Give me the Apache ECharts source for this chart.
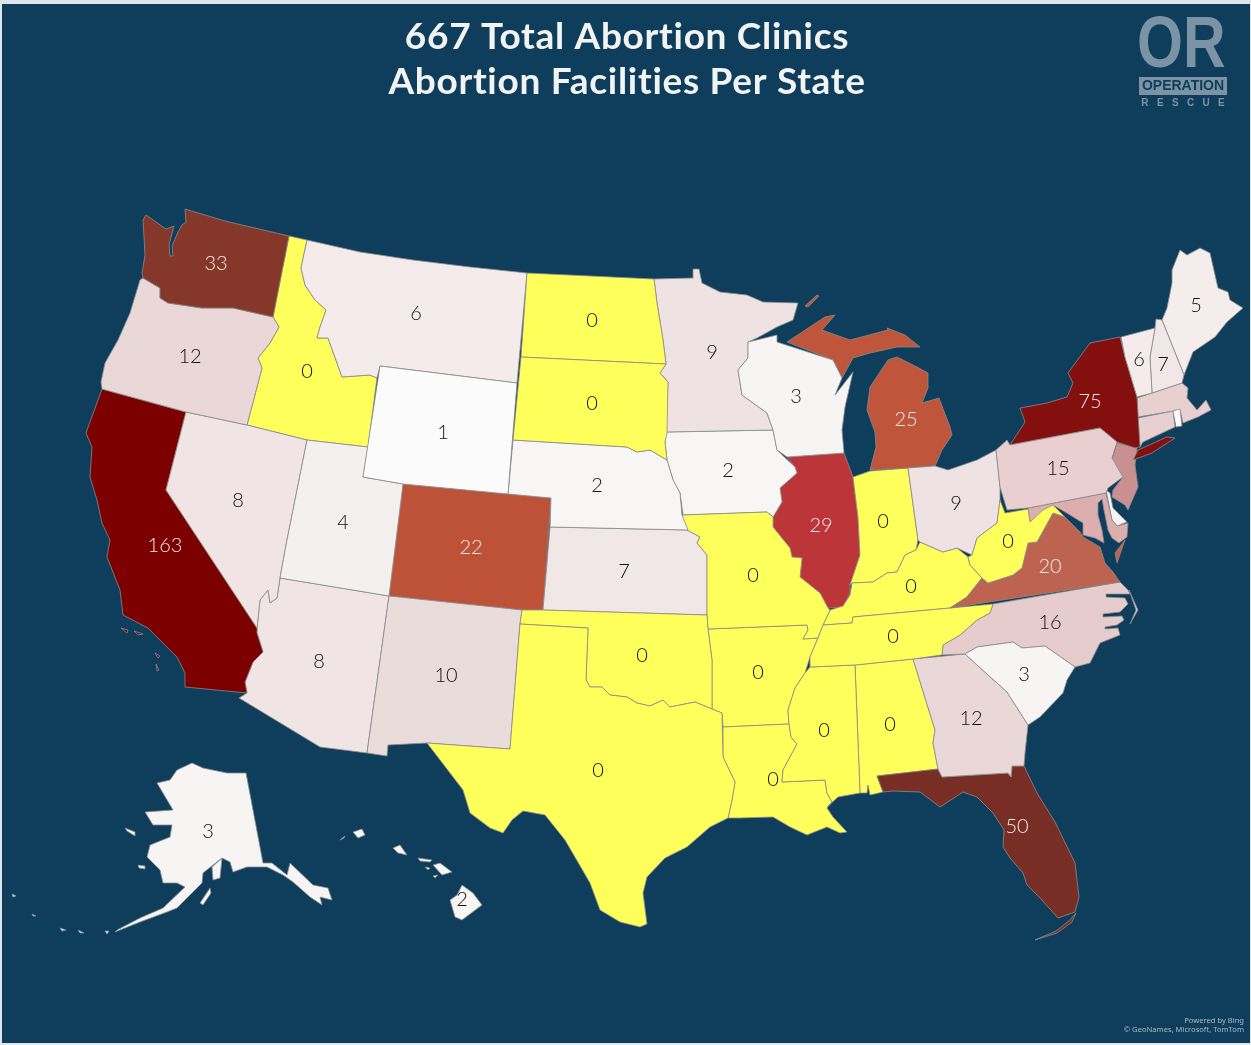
<!DOCTYPE html>
<html>
<head>
<meta charset="utf-8">
<title>Abortion Facilities Per State</title>
<script src="https://cdn.jsdelivr.net/npm/echarts@6/dist/echarts.min.js"></script>
<style>
  html, body { margin: 0; background: #dfe6ea; }
  #frame { position: absolute; left: 2px; top: 4px; width: 1248px; height: 1039px; background: #0f3d5c; }
  #chart { position: absolute; left: 0; top: 0; width: 1251px; height: 1045px; }
</style>
</head>
<body>
<div id="frame"></div>
<div id="chart"></div>
<script>
// clinics per state. the six small states have no label, those are estimated
const states = ['Alabama','Alaska','Arizona','Arkansas','California','Colorado','Connecticut','Delaware','Florida','Georgia',
  'Hawaii','Idaho','Illinois','Indiana','Iowa','Kansas','Kentucky','Louisiana','Maine','Maryland',
  'Massachusetts','Michigan','Minnesota','Mississippi','Missouri','Montana','Nebraska','Nevada','New Hampshire','New Jersey',
  'New Mexico','New York','North Carolina','North Dakota','Ohio','Oklahoma','Oregon','Pennsylvania','Rhode Island','South Carolina',
  'South Dakota','Tennessee','Texas','Utah','Vermont','Virginia','Washington','West Virginia','Wisconsin','Wyoming']
const clinics = [0,3,8,0,163,22,17,3,50,12,
  2,0,29,0,2,7,0,0,5,38,
  17,25,9,0,0,6,2,8,7,60,
  10,75,16,0,9,0,12,15,1,3,
  0,0,0,4,6,20,33,0,3,1]
const unlabelled = ['Connecticut','Delaware','Maryland','Massachusetts','New Jersey','Rhode Island']

// value -> fill, the map's colour scale is not monotonic
const scaleValues = [0,1,2,3,4,5,6,7,8,9,10,12,15,16,17,20,22,25,29,33,38,50,60,75,163]
const scaleColors = ['#ffff5c','#fbfbfb','#f8f5f5','#f7f4f4','#f5f0f0','#f5ecec','#f5ebeb','#f2e7e7','#f0e4e4','#efe2e2','#ebdcdc',
  '#ead8d8','#e9cfcf','#e6cccc','#e8d0d0','#bd6350','#bd5239','#bf553a','#bc3639','#85382a','#dcaeae','#782e24','#c89090','#830f0f','#7c0000']

// state outlines traced on the picture plane (x,y in px), each entry is one island/part
const shapes = {
  Washington: ['146,215 166,229 174,226 169,245 170,256 173,256 172,246 178,232 182,225 186,222 185,209 225,221 289,236 273,317 233,308 202,308 168,303 160,298 160,288 143,278 142,273 145,255 143,220'],
  Oregon: ['143,278 160,288 160,298 168,303 202,308 233,308 273,317 279,327 270,343 258,358 262,368 247,425 186,412 102,389 101,382 105,363 118,340 130,313 140,280'],
  California: ['102,389 186,412 166,490 257,628 257,633 263,652 253,662 245,682 247,693 185,687 185,673 177,657 167,647 148,628 123,615 120,590 107,557 110,540 102,523 97,500 90,477 92,447 86,433',
    '121,628 128,630 127,633','134,631 143,634 138,635','155,653 160,656 158,658','156,664 159,670 157,671'],
  Nevada: ['186,412 247,425 307,440 287,540 280,578 277,598 270,603 268,590 260,600 257,628 166,490'],
  Idaho: ['289,236 307,240 301,268 305,285 315,300 326,310 320,327 317,338 328,338 337,363 342,377 370,375 377,378 368,447 307,440 247,425 262,368 258,358 270,343 279,327 273,317'],
  Montana: ['307,240 360,252 413,260 470,267 527,273 517,383 380,366 377,378 370,375 342,377 337,363 328,338 317,338 320,327 326,310 315,300 305,285 301,268'],
  Wyoming: ['380,366 517,383 508,494 403,484 363,477'],
  Utah: ['307,440 368,447 363,477 403,484 389,596 280,578 287,540'],
  Colorado: ['403,484 508,494 551,498 543,610 522,610 389,596'],
  Arizona: ['280,578 389,596 367,753 320,747 239,698 247,693 245,682 253,662 263,652 257,633 257,628 260,600 268,590 270,603 277,598'],
  'New Mexico': ['389,596 522,610 520,624 510,749 427,743 388,745 387,756 367,753'],
  Texas: ['520,624 588,628 586,680 590,687 602,687 610,695 627,697 637,703 650,706 663,700 670,707 695,702 712,709 722,713 723,757 735,782 732,800 728,818 710,827 687,847 665,858 647,877 643,893 647,924 640,927 620,922 600,910 590,883 565,840 545,815 523,811 512,820 503,833 490,828 470,813 463,790 427,743 510,749'],
  Oklahoma: ['522,610 543,610 707,615 708,629 712,660 712,709 695,702 670,707 663,700 650,706 637,703 627,697 610,695 602,687 590,687 586,680 588,628 520,624'],
  Kansas: ['550,527 687,530 700,537 697,543 707,555 707,615 543,610'],
  Nebraska: ['513,440 627,447 637,452 650,450 667,460 673,480 680,493 682,515 688,530 550,527 551,498 508,494'],
  'South Dakota': ['521,357 666,364 660,373 668,382 667,433 665,442 667,460 650,450 637,452 627,447 513,440'],
  'North Dakota': ['527,273 654,279 657,303 663,340 666,364 521,357'],
  Minnesota: ['654,279 693,278 693,269 699,269 702,283 720,292 747,295 763,302 798,303 793,320 777,327 757,338 748,342 748,358 738,370 742,395 767,413 773,430 666,432 668,382 660,373 666,364 663,340 657,303'],
  Iowa: ['666,432 773,430 777,450 795,467 797,473 780,488 782,502 773,517 767,512 683,515 680,493 673,480 667,460 665,442'],
  Wisconsin: ['748,342 777,335 777,342 833,360 842,378 835,395 853,372 845,407 842,430 844,453 787,457 777,450 773,430 767,413 742,395 738,370 748,358'],
  Illinois: ['787,457 844,453 853,477 858,517 860,555 850,585 850,593 843,607 828,608 820,593 800,577 802,558 792,557 790,548 773,527 773,517 782,502 780,488 797,473 795,467'],
  Indiana: ['853,477 870,471 908,468 918,540 916,550 905,555 897,572 887,573 873,582 852,583 850,585 860,555 858,517'],
  Ohio: ['908,468 935,466 948,470 977,460 996,450 1000,487 1000,500 997,523 977,538 972,555 957,548 943,552 920,542 918,540'],
  Michigan: ['870,470 876,447 875,432 867,410 870,387 888,360 897,357 917,367 928,373 928,388 922,403 939,398 950,427 952,435 942,450 935,466 908,468',
    '787,342 825,317 835,315 822,330 850,340 888,330 887,328 905,335 920,347 897,347 870,353 853,358 842,378 833,360','805,306 817,295 819,296 808,307'],
  Kentucky: ['852,583 873,582 887,573 897,572 905,555 916,550 920,542 943,552 957,548 968,557 970,565 982,578 967,597 950,608 853,617 852,623 823,625 830,610 843,606 850,595'],
  Tennessee: ['993,604 950,608 853,617 852,623 823,625 818,638 810,657 810,667 855,665 913,659 942,655 943,645 960,635 977,620 990,613'],
  Missouri: ['683,515 767,512 773,517 773,527 790,548 792,557 802,558 800,577 820,593 828,608 830,610 823,625 818,638 803,639 808,630 807,625 708,629 707,615 707,555 697,543 700,537 687,530 682,515'],
  Arkansas: ['708,629 807,625 808,630 803,639 818,638 810,657 805,673 795,688 788,710 789,724 723,727 722,713 712,709 712,660'],
  Louisiana: ['723,727 789,724 791,737 797,744 783,770 782,782 825,780 827,793 832,802 827,808 833,817 847,832 840,833 827,827 807,835 790,827 773,817 740,818 728,818 732,800 735,782 723,757'],
  Mississippi: ['810,667 855,665 860,793 838,797 827,807 832,802 827,793 825,780 782,782 783,770 797,744 791,737 789,724 788,710 795,688 805,673'],
  Alabama: ['855,665 913,659 935,730 933,743 938,769 877,776 883,792 870,795 868,785 867,793 860,793'],
  Georgia: ['913,659 965,654 977,665 1007,692 1028,725 1025,753 1024,766 1012,766 1011,777 1008,773 942,777 938,769 933,743 935,730'],
  Florida: ['877,776 938,769 942,777 1008,773 1011,777 1012,766 1024,766 1037,793 1055,822 1075,863 1079,897 1075,912 1058,918 1040,898 1027,885 1023,873 1010,858 1003,847 1004,830 993,813 977,797 963,792 940,807 920,792 893,791 883,792',
    '1076,913 1072,922 1057,933 1035,940 1056,931 1070,920'],
  'South Carolina': ['965,654 977,647 1013,642 1022,648 1045,646 1075,667 1067,680 1063,693 1040,717 1028,725 1007,692 977,665'],
  'North Carolina': ['993,604 1120,582 1128,590 1130,594 1106,594 1106,597 1125,598 1128,604 1120,612 1103,614 1103,617 1122,616 1124,620 1117,625 1105,627 1105,629 1118,628 1120,635 1100,643 1090,663 1075,667 1045,646 1022,648 1013,642 977,647 965,654 942,655 943,645 960,635 977,620 990,613',
    '1129,590 1138,610 1130,624 1136,610'],
  Virginia: ['950,608 1120,582 1113,572 1105,563 1100,547 1083,537 1080,532 1065,517 1053,513 1037,542 1028,543 1022,568 1013,575 988,583 982,578 967,597',
    '1125,540 1117,563 1115,553'],
  'West Virginia': ['982,578 988,583 1013,575 1022,568 1028,543 1037,542 1053,513 1065,517 1053,505 1043,510 1030,522 1028,509 1005,513 1000,500 997,523 977,538 972,555 968,557 970,565'],
  Maryland: ['1028,508 1106,493 1112,520 1117,526 1128,523 1127,537 1119,543 1112,538 1108,530 1104,510 1102,499 1098,503 1098,515 1102,530 1104,543 1095,538 1083,535 1083,523 1065,512 1053,505 1030,522'],
  Delaware: ['1106,490 1110,493 1113,508 1127,522 1117,526 1112,520'],
  'New Jersey': ['1117,443 1137,448 1135,465 1138,487 1128,510 1125,505 1112,497 1113,490 1123,477 1112,460'],
  Pennsylvania: ['996,450 1007,440 1010,445 1100,428 1117,442 1112,458 1123,477 1108,488 1106,493 1028,508 1007,510 1000,487'],
  'New York': ['1010,445 1025,422 1020,408 1047,403 1067,397 1073,383 1068,373 1090,343 1120,337 1125,357 1137,397 1140,447 1135,448 1117,442 1100,428',
    '1133,460 1138,450 1167,437 1175,438 1152,453'],
  Vermont: ['1121,337 1155,328 1150,357 1152,393 1137,397 1125,357'],
  'New Hampshire': ['1155,328 1156,319 1162,320 1184,375 1182,383 1152,393 1150,357'],
  Maine: ['1162,320 1167,308 1172,283 1172,270 1180,250 1187,255 1200,248 1210,253 1218,288 1228,292 1230,300 1243,308 1227,322 1215,337 1193,352 1184,375'],
  Massachusetts: ['1137,398 1182,383 1188,388 1187,398 1197,410 1206,400 1211,410 1198,417 1183,423 1180,410 1173,411 1138,417'],
  Connecticut: ['1138,418 1173,411 1175,427 1143,442 1140,447'],
  'Rhode Island': ['1173,411 1180,409 1182,426 1176,427'],
  Alaska: ['192,763 203,768 227,773 246,773 263,863 272,863 287,875 290,863 313,885 328,888 332,900 320,897 322,905 310,897 293,882 283,875 267,867 247,867 233,872 230,862 222,858 220,878 213,880 212,867 222,858 203,873 202,883 177,908 167,912 140,922 115,932 117,930 140,918 163,908 185,887 177,883 163,883 160,870 147,857 150,845 170,837 172,825 153,825 145,812 173,810 157,783 170,780 177,770',
    '200,903 210,888 211,893 203,905','125,828 135,832 135,836 127,831','138,865 145,866 145,869 139,868','105,931 109,931 107,934','78,930 84,933 80,933','60,928 66,930 62,931','32,914 36,916 33,916','12,894 16,896 13,897'],
  Hawaii: ['462,885 473,893 482,905 462,920 455,917 450,900 457,895','433,865 440,863 452,872 442,875','418,858 432,860 430,862 420,861',
    '393,848 400,845 407,855 398,853','353,832 362,829 365,835 358,838','340,840 345,836 344,838','425,867 430,868 428,870','433,876 438,875 435,878']
}

// where each number sits
const labelAnchors = {
  Washington:[216,263],Oregon:[190,356],California:[165,545],Nevada:[238,500],Idaho:[307,371],Montana:[416,313],Wyoming:[443,432],Utah:[343,522],
  Colorado:[471,547],Arizona:[319,661],'New Mexico':[446,675],'North Dakota':[592,320],'South Dakota':[592,403],Nebraska:[597,485],Kansas:[624,571],
  Oklahoma:[642,655],Texas:[598,770],Minnesota:[712,352],Iowa:[728,470],Missouri:[753,575],Arkansas:[758,672],Louisiana:[773,779],Wisconsin:[796,396],
  Illinois:[821,525],Mississippi:[824,730],Alabama:[890,724],Tennessee:[893,636],Kentucky:[911,586],Indiana:[883,521],Michigan:[906,419],Ohio:[956,503],
  'West Virginia':[1008,541],Virginia:[1050,566],'North Carolina':[1050,622],'South Carolina':[1024,674],Georgia:[971,718],Florida:[1017,826],
  Pennsylvania:[1058,468],'New York':[1090,401],Vermont:[1139,359],'New Hampshire':[1163,364],Maine:[1196,305],Alaska:[208,831],Hawaii:[462,899],
  Maryland:[1070,518],Delaware:[1117,510],'New Jersey':[1125,480],Connecticut:[1157,425],'Rhode Island':[1177,418],Massachusetts:[1165,405]
}

function ring(str) {
  const pts = str.split(' ').map(p => {
    const xy = p.split(',')
    return [+xy[0], -xy[1]] // y points up in geojson
  })
  pts.push(pts[0])
  return pts
}

const usa = {
  type: 'FeatureCollection',
  features: states.map(name => ({
    type: 'Feature',
    properties: { name: name, cp: [labelAnchors[name][0], -labelAnchors[name][1]] },
    geometry: { type: 'MultiPolygon', coordinates: shapes[name].map(s => [ring(s)]) }
  }))
}
echarts.registerMap('usa', usa)

// zrender has no letter spacing option, the title needs a bit
const drawText = CanvasRenderingContext2D.prototype.fillText
CanvasRenderingContext2D.prototype.fillText = function (t, x, y) {
  this.letterSpacing = this.font.indexOf('37px') >= 0 ? '0.7px' : '0px'
  return drawText.call(this, t, x, y)
}

const chart = echarts.init(document.getElementById('chart'))
const logoColor = '#7b93a5'
const bgColor = '#0f3d5c'

chart.setOption({
  animation: false,
  backgroundColor: 'transparent',
  title: {
    text: '667 Total Abortion Clinics\nAbortion Facilities Per State',
    left: 622,
    top: 10,
    textAlign: 'center',
    textStyle: { color: '#f2f3f3', fontFamily: 'Lato', fontWeight: 'bold', fontSize: 37, lineHeight: 45 }
  },
  visualMap: {
    type: 'piecewise',
    show: false,
    seriesIndex: 0,
    pieces: scaleValues.map((v, i) => ({ value: v, color: scaleColors[i] }))
  },
  graphic: [
    { type: 'text', x: 1137, y: 47, scaleX: 0.82, silent: true, style: { text: 'OR', fill: logoColor, verticalAlign: 'middle', font: 'bold 72px "Liberation Sans"' } },
    { type: 'rect', shape: { x: 1139, y: 77, width: 88, height: 18 }, silent: true, style: { fill: logoColor } },
    { type: 'text', x: 1183, y: 86, silent: true, style: { text: 'OPERATION', fill: bgColor, align: 'center', verticalAlign: 'middle', font: 'bold 14px "Liberation Sans"' } },
    { type: 'text', x: 1183, y: 103, silent: true, style: { text: 'R   E   S   C   U   E', fill: logoColor, align: 'center', verticalAlign: 'middle', font: 'bold 10px "Liberation Sans"' } },
    { type: 'text', x: 1244, y: 1021, silent: true, style: { text: 'Powered by Bing', fill: '#a9bac6', align: 'right', verticalAlign: 'middle', font: '7.6px "Noto Sans"' } },
    { type: 'text', x: 1244, y: 1030, silent: true, style: { text: '© GeoNames, Microsoft, TomTom', fill: '#a9bac6', align: 'right', verticalAlign: 'middle', font: '7.6px "Noto Sans"' } }
  ],
  series: [{
    type: 'map',
    map: 'usa',
    aspectScale: 1,
    boundingCoords: [[0, 0], [1251, -1045]],
    left: 0,
    top: 0,
    width: 1251,
    height: 1045,
    roam: false,
    selectedMode: false,
    silent: true,
    itemStyle: { borderColor: '#8c8c8c', borderWidth: 0.8 },
    emphasis: { disabled: true },
    label: { show: true, fontFamily: 'Lato', fontWeight: 300, fontSize: 20, offset: [0, 1], color: '#111', formatter: '{c}' },
    data: states.map((name, i) => ({
      name: name,
      value: clinics[i],
      label: {
        show: unlabelled.indexOf(name) < 0,
        color: clinics[i] >= 20 ? '#f5e9e6' : '#111'
      }
    }))
  }]
})
</script>
</body>
</html>
